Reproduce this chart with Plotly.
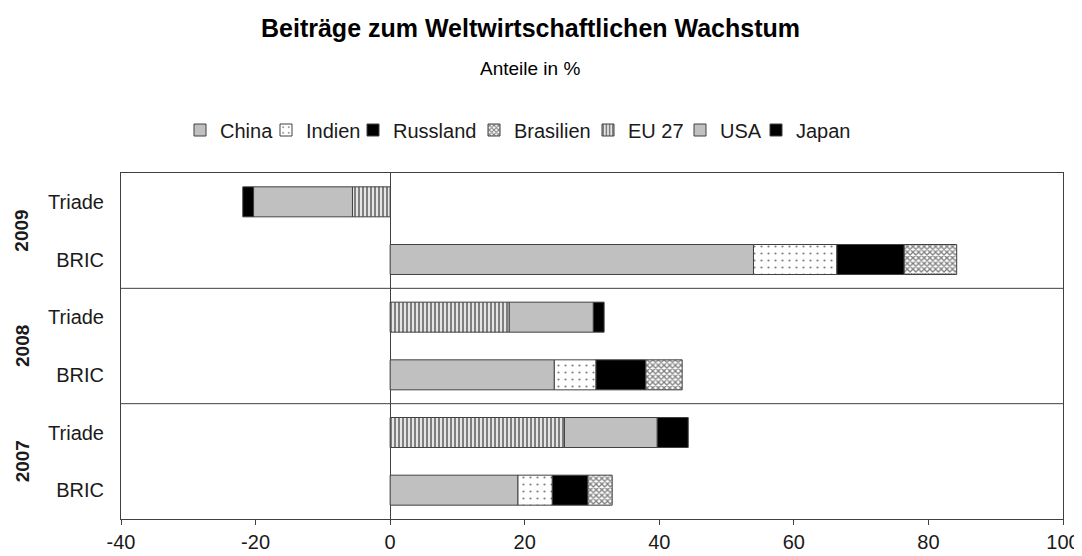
import plotly.graph_objects as go

# Categories (bottom to top)
rows = ["BRIC 2007", "Triade 2007", "BRIC 2008", "Triade 2008", "BRIC 2009", "Triade 2009"]
row_labels = ["BRIC", "Triade", "BRIC", "Triade", "BRIC", "Triade"]
years = ["2007", "2008", "2009"]
x_ticks = [-40, -20, 0, 20, 40, 60, 80, 100]
x_tick_labels = ["-40", "-20", "0", "20", "40", "60", "80", "100"]

# BRIC series (None for Triade rows)
china = [19.0, None, 24.4, None, 54.0, None]
indien = [5.1, None, 6.2, None, 12.4, None]
russland = [5.3, None, 7.4, None, 10.0, None]
brasilien = [3.6, None, 5.4, None, 7.8, None]
# Triade series (None for BRIC rows)
eu27 = [None, 25.9, None, 17.7, None, -5.6]
usa = [None, 13.8, None, 12.5, None, -14.7]
japan = [None, 4.6, None, 1.6, None, -1.6]

FONT = "Liberation Sans, Arial, sans-serif"
LINE = "#404040"
TXT = "#1a1a1a"

series = [
    ("China", china, dict(color="#C0C0C0")),
    ("Indien", indien, dict(color="white", pattern=dict(shape=".", fgcolor="black", bgcolor="white", size=7, solidity=0.08))),
    ("Russland", russland, dict(color="black")),
    ("Brasilien", brasilien, dict(color="white", pattern=dict(shape="x", fgcolor="black", bgcolor="white", size=4, solidity=0.55))),
    ("EU 27", eu27, dict(color="white", pattern=dict(shape="|", fgcolor="black", bgcolor="white", size=4, solidity=0.6))),
    ("USA", usa, dict(color="#C0C0C0")),
    ("Japan", japan, dict(color="black")),
]

# The page body has an 8px margin: the figure starts at (8, 8) in the window.
OFF = 8
# Target plot area in window pixels
PLOT_L, PLOT_R, PLOT_T, PLOT_B = 121, 1063, 173, 519
PLOT_W, PLOT_H = PLOT_R - PLOT_L, PLOT_B - PLOT_T
FIG_W, FIG_H = 1082 - OFF, 556 - OFF

# legend key left-edge pixel positions (symbol box) -> one small legend per series
legend_box_px = [194, 280, 367, 488, 602, 694, 770]

fig = go.Figure()
legend_layouts = {}
for i, (name, vals, mk) in enumerate(series):
    mk = dict(mk)
    mk["line"] = dict(color=LINE, width=1)
    lg = "legend" if i == 0 else "legend%d" % (i + 1)
    fig.add_trace(go.Bar(
        name=name, y=rows, x=vals, orientation="h", marker=mk, legend=lg,
    ))
    left_px = legend_box_px[i] + 6 - 20
    legend_layouts[lg] = dict(
        orientation="h", x=(left_px - PLOT_L) / PLOT_W, xanchor="left",
        y=(PLOT_B - 130) / PLOT_H, yanchor="middle",
        font=dict(family=FONT, size=20, color=TXT), bgcolor="rgba(0,0,0,0)",
        borderwidth=0,
    )

# separators between years
for yv in [1.5, 3.5]:
    fig.add_shape(type="line", xref="paper", x0=0, x1=1, yref="y", y0=yv, y1=yv,
                  line=dict(color=LINE, width=1))

# year labels
for i, yr in enumerate(years):
    fig.add_annotation(text="<b>" + yr + "</b>", xref="paper", x=(22 - PLOT_L) / PLOT_W,
                       xanchor="center", yref="y", y=2 * i + 0.5, yanchor="middle",
                       textangle=-90, showarrow=False, font=dict(family=FONT, size=19, color=TXT))

# titles
fig.add_annotation(text="<b>Beiträge zum Weltwirtschaftlichen Wachstum</b>", xref="paper",
                   x=(530 - PLOT_L) / PLOT_W, xanchor="center",
                   yref="paper", y=(PLOT_B - 28) / PLOT_H, yanchor="middle", showarrow=False,
                   font=dict(family=FONT, size=25, color="black"))
fig.add_annotation(text="Anteile in %", xref="paper", x=(530 - PLOT_L) / PLOT_W, xanchor="center",
                   yref="paper", y=(PLOT_B - 69) / PLOT_H, yanchor="middle",
                   showarrow=False, font=dict(family=FONT, size=19, color="black"))

fig.update_layout(
    width=FIG_W, height=FIG_H,
    margin=dict(l=PLOT_L - OFF, r=1082 - PLOT_R, t=PLOT_T - OFF, b=556 - PLOT_B, autoexpand=False),
    barmode="relative",
    bargap=0.48,
    plot_bgcolor="white", paper_bgcolor="white",
    font=dict(family=FONT, size=20, color=TXT),
    xaxis=dict(range=[-40, 100], tickvals=x_ticks, ticktext=x_tick_labels, showgrid=False,
               zeroline=True, zerolinecolor=LINE, zerolinewidth=1, showline=True, linecolor=LINE,
               linewidth=1, mirror=True, ticks="outside", ticklen=5, tickcolor=LINE,
               tickfont=dict(family=FONT, size=20, color=TXT)),
    yaxis=dict(categoryorder="array", categoryarray=rows, tickvals=rows, ticktext=row_labels,
               showgrid=False, showline=True, linecolor=LINE, linewidth=1, mirror=True,
               ticks="", ticklabelstandoff=12, range=[-0.5, 5.5],
               tickfont=dict(family=FONT, size=20, color=TXT)),
    showlegend=True,
    **legend_layouts,
)

fig.write_html("out.html")
